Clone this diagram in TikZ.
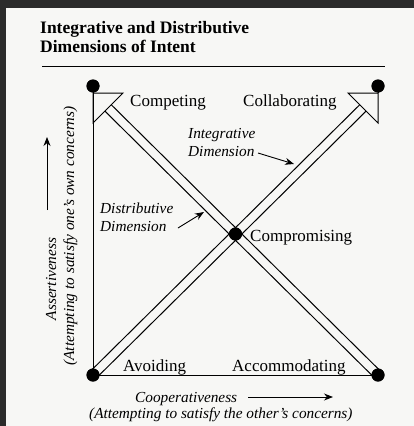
\documentclass[tikz,border=0pt]{standalone}
\usepackage{fontspec}
\setmainfont{Liberation Serif}
\usetikzlibrary{arrows.meta,calc}

\definecolor{frame}{HTML}{2B2B2B}
\definecolor{paper}{HTML}{F7F7F5}

\begin{document}
\begin{tikzpicture}[x=1pt,y=-1pt,
  dot/.style={circle,fill=black,inner sep=0pt,minimum size=13pt},
  lbl/.style={inner sep=0pt,anchor=base west,font=\fontsize{17}{18}\selectfont},
  ital/.style={inner sep=0pt,anchor=base west,align=left,font=\fontsize{15.3}{18}\selectfont\itshape},
  edge/.style={line width=1pt},
  pointer/.style={line width=0.9pt,-{Stealth[length=9pt,width=7pt]}}]

% page and dark border
\fill[frame] (0,0) rectangle (414,426);
\fill[paper] (6,8) rectangle (414,426);

% title (base = last line)
\node [inner sep=0pt, anchor=base west, align=left, font=\fontsize{17.5}{19}\selectfont\bfseries] (title) at (40,52) {Integrative and Distributive\\Dimensions of Intent};
\draw[edge] (42,66)--(385,66);

% corners
\node [dot] (compete) at (93,86) {};
\node [dot] (collab) at (378,86) {};
\node [dot] (avoid) at (93,375) {};
\node [dot] (accom) at (378,375) {};
\node [dot] (comprom) at (235.5,234) {};

\coordinate (tl) at (93,93);
\coordinate (tr) at (378,93);

% axes
\draw[edge] (compete.center)--(avoid.center)--(accom.center);
\draw[edge] (collab.center)--(tr);

% distributive arrow (accommodating -> competing)
\draw[edge] ($(tl)+(30,0)$)--(tl)--($(tl)+(0,30)$)--cycle;
\coordinate (nwbase) at ($(tl)!21.2pt!(accom)$);
\draw[edge] ($(nwbase)!4.5pt!90:(accom)$)--($(accom)!4.5pt!-90:(nwbase)$);
\draw[edge] ($(nwbase)!4.5pt!-90:(accom)$)--($(accom)!4.5pt!90:(nwbase)$);

% integrative arrow (avoiding -> collaborating)
\draw[edge] ($(tr)+(-30,0)$)--(tr)--($(tr)+(0,30)$)--cycle;
\coordinate (nebase) at ($(tr)!21.2pt!(avoid)$);
\draw[edge] ($(nebase)!4.5pt!90:(avoid)$)--($(avoid)!4.5pt!-90:(nebase)$);
\draw[edge] ($(nebase)!4.5pt!-90:(avoid)$)--($(avoid)!4.5pt!90:(nebase)$);

% dots on top again
\fill (compete) circle (6.5pt) (collab) circle (6.5pt) (avoid) circle (6.5pt) (accom) circle (6.5pt) (comprom) circle (6.5pt);

% mode labels
\node [lbl] (competelbl) at (130,106) {Competing};
\node [lbl] (collablbl) at (243,106) {Collaborating};
\node [lbl] (avoidlbl) at (123,371) {Avoiding};
\node [lbl] (accomlbl) at (232,371) {Accommodating};
\node [lbl] (compromlbl) at (250,241) {Compromising};

% dimension labels (base = last line)
\node [ital] (intlbl) at (188,156) {Integrative\\Dimension};
\coordinate (inttail) at (258,153);
\coordinate (inthead) at (294,164);
\draw[pointer] (inttail)--(inthead);

\node [ital] (distlbl) at (100,231) {Distributive\\Dimension};
\coordinate (disttail) at (178,228);
\coordinate (disthead) at (204,212);
\draw[pointer] (disttail)--(disthead);

% axis titles
\node [ital] (coop) at (135,402) {Cooperativeness};
\node [ital] (coopnote) at (89,418) {(Attempting to satisfy the other's concerns)};
\coordinate (cooptail) at (248,397);
\coordinate (coophead) at (333,397);
\draw[pointer] (cooptail)--(coophead);

\node [inner sep=0pt, anchor=base, rotate=90, font=\fontsize{15.3}{17}\selectfont\itshape] (assert) at (56,279) {Assertiveness};
\node [inner sep=0pt, anchor=base, rotate=90, font=\fontsize{15.3}{17}\selectfont\itshape] (assertnote) at (74,236) {(Attempting to satisfy one's own concerns)};
\coordinate (asserttail) at (47,210);
\coordinate (asserthead) at (47,137);
\draw[pointer] (asserttail)--(asserthead);

\end{tikzpicture}
\end{document}
